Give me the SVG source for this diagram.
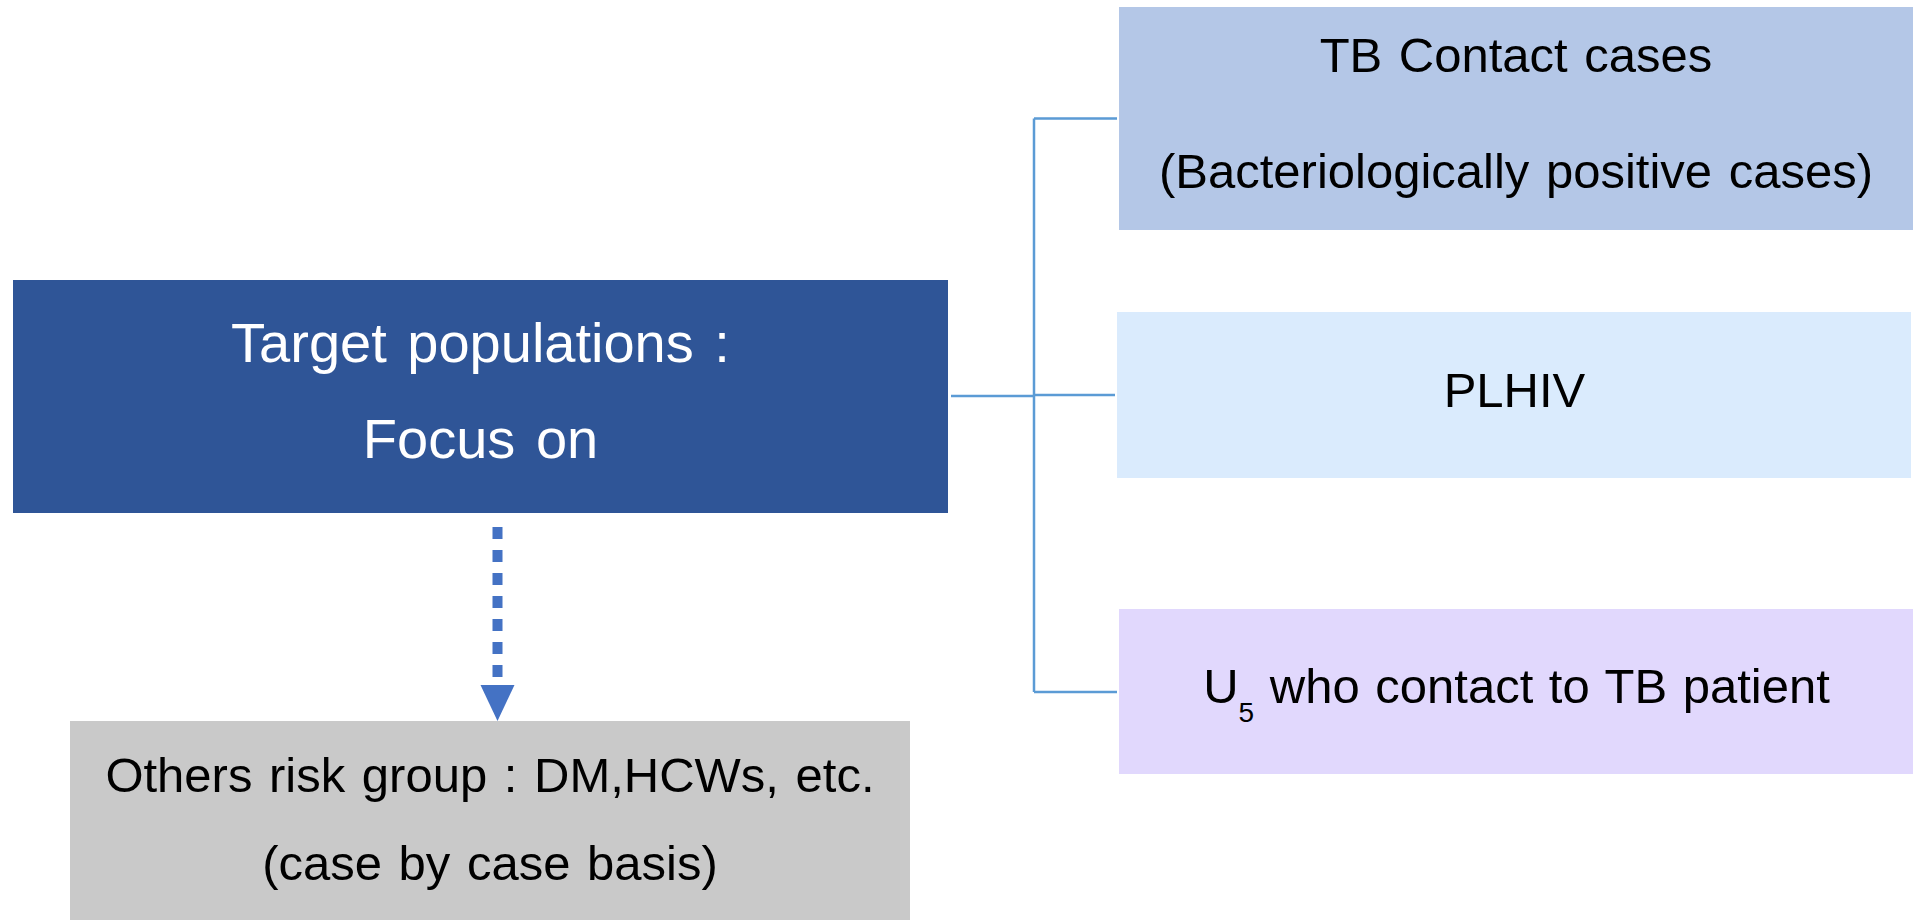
<svg xmlns="http://www.w3.org/2000/svg" width="1921" height="920" viewBox="0 0 1921 920">
  <style>
    text { font-family: "Liberation Sans", Arial, sans-serif; text-anchor: middle; }
    .dark { fill: #FFFFFF; font-size: 56px; word-spacing: 5px; }
    .lab { fill: #000000; font-size: 49px; word-spacing: 3px; }
    .conn { fill: none; stroke: #5B9BD5; stroke-width: 2.5; }
  </style>
  <rect width="1921" height="920" fill="#FFFFFF"/>
  <g id="connectors">
    <path class="conn" d="M951,396 H1034 M1034,118.5 V692 M1034,118.5 H1117 M1034,395 H1115 M1034,692 H1117"/>
    <line x1="497.5" y1="527" x2="497.5" y2="686" stroke="#4472C4" stroke-width="10" stroke-dasharray="12 11"/>
    <polygon points="480.5,685 514.5,685 497.5,721" fill="#4472C4"/>
  </g>
  <g id="target">
    <rect x="13" y="280" width="935" height="233" fill="#2F5597"/>
    <text class="dark" x="480.5" y="362">Target populations :</text>
    <text class="dark" x="480.5" y="458">Focus on</text>
  </g>
  <g id="tb-contact">
    <rect x="1119" y="7" width="794" height="223" fill="#B4C7E7"/>
    <text class="lab" x="1516" y="72">TB Contact cases</text>
    <text class="lab" x="1516" y="188">(Bacteriologically positive cases)</text>
  </g>
  <g id="plhiv">
    <rect x="1117" y="312" width="794" height="166" fill="#DAEBFD"/>
    <text class="lab" x="1514.5" y="407">PLHIV</text>
  </g>
  <g id="u5">
    <rect x="1119" y="609" width="794" height="165" fill="#E1D8FD"/>
    <text class="lab" x="1516.5" y="703" style="word-spacing:2px">U<tspan dy="19" style="font-size:28px">5</tspan><tspan dy="-19"> who contact to TB patient</tspan></text>
  </g>
  <g id="others">
    <rect x="70" y="721" width="840" height="199" fill="#C9C9C9"/>
    <text class="lab" x="490" y="792">Others risk group : DM,HCWs, etc.</text>
    <text class="lab" x="490" y="880">(case by case basis)</text>
  </g>
</svg>
